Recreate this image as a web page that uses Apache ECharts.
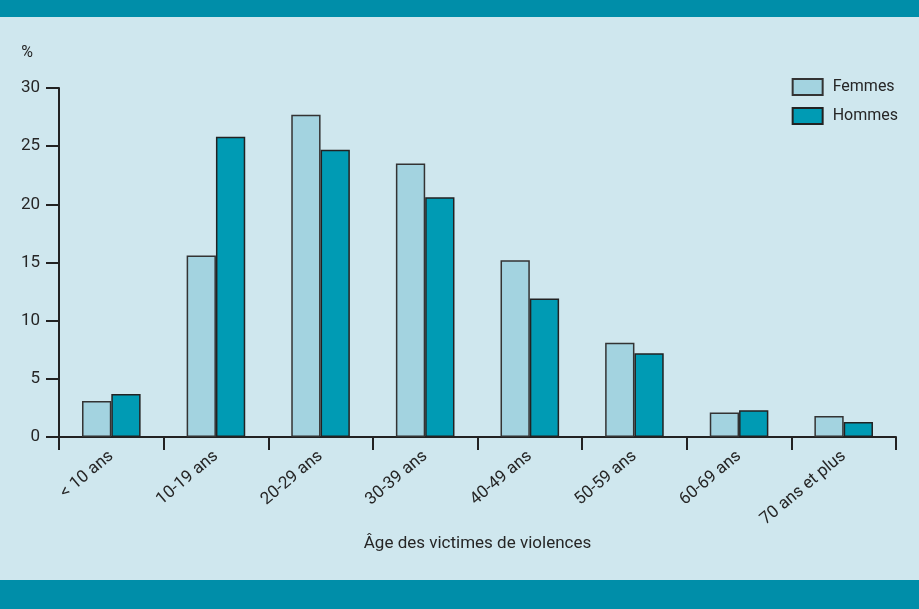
<!DOCTYPE html>
<html>
<head>
<meta charset="utf-8">
<script src="https://cdn.jsdelivr.net/npm/echarts@6/dist/echarts.min.js"></script>
<style>
  html, body { margin: 0; padding: 0; background: #cfe7ee; }
  .band-top { position: absolute; left: 0; top: 0; width: 919px; height: 17px; background: #008ea9; }
  .band-bottom { position: absolute; left: 0; top: 580px; width: 919px; height: 29px; background: #008ea9; }
  #chart { position: absolute; left: 0; top: 0; width: 919px; height: 609px; }
</style>
</head>
<body>
<div class="band-top"></div>
<div class="band-bottom"></div>
<div id="chart"></div>
<script>
var categories = ['< 10 ans', '10-19 ans', '20-29 ans', '30-39 ans', '40-49 ans', '50-59 ans', '60-69 ans', '70 ans et plus']
var femmes = [3.1, 15.6, 27.7, 23.5, 15.2, 8.1, 2.1, 1.8]
var hommes = [3.7, 25.8, 24.7, 20.6, 11.9, 7.2, 2.3, 1.3]

var textColor = '#262626'
var fontFamily = 'Roboto'

var myChart = echarts.init(document.getElementById('chart'))
var option = {
  backgroundColor: 'transparent',
  textStyle: { fontFamily: fontFamily },
  grid: {
    left: 59,
    right: 23,
    top: 88,
    bottom: 172
  },
  legend: {
    orient: 'vertical',
    right: 16,
    top: 73,
    icon: 'rect',
    itemWidth: 30,
    itemHeight: 16,
    itemGap: 11,
    textStyle: { fontSize: 16, color: textColor, fontFamily: fontFamily, padding: [0, 0, 0, 5] },
    data: ['Femmes', 'Hommes']
  },
  xAxis: {
    type: 'category',
    data: categories,
    name: 'Âge des victimes de violences',
    nameLocation: 'middle',
    nameGap: 97,
    nameTextStyle: { fontSize: 17, color: textColor },
    axisLine: { lineStyle: { color: '#222', width: 2 } },
    axisTick: { show: true, alignWithLabel: false, length: 13, lineStyle: { color: '#222', width: 2 } },
    axisLabel: {
      rotate: 40,
      fontSize: 17,
      color: textColor,
      margin: 17
    }
  },
  yAxis: {
    type: 'value',
    min: 0,
    max: 30,
    interval: 5,
    name: '%',
    nameLocation: 'end',
    nameGap: 27,
    nameTextStyle: { fontSize: 16, color: textColor, align: 'right', padding: [0, 26, 0, 0] },
    splitLine: { show: false },
    axisLine: { show: true, lineStyle: { color: '#222', width: 2 } },
    axisTick: { show: true, length: 13, lineStyle: { color: '#222', width: 2 } },
    axisLabel: { fontSize: 17, color: textColor, margin: 19 }
  },
  series: [{
    name: 'Femmes',
    type: 'bar',
    data: femmes,
    barGap: '0%',
    barCategoryGap: '44%',
    itemStyle: { color: '#a3d3e0', borderColor: '#333', borderWidth: 1.5 }
  }, {
    name: 'Hommes',
    type: 'bar',
    data: hommes,
    itemStyle: { color: '#009bb4', borderColor: '#222', borderWidth: 1.5 }
  }]
}
myChart.setOption(option)
</script>
</body>
</html>
